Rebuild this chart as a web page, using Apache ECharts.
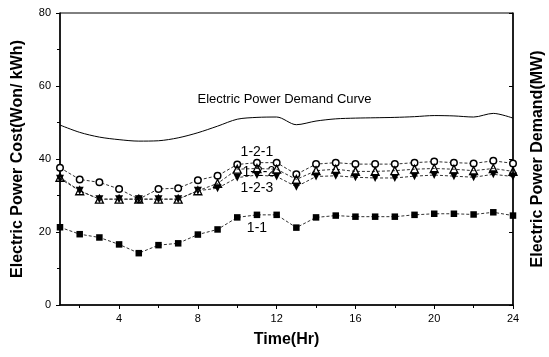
<!DOCTYPE html>
<html>
<head>
<meta charset="utf-8">
<script src="https://cdn.jsdelivr.net/npm/echarts@6/dist/echarts.min.js"></script>
<style>
html,body{margin:0;padding:0;background:#fff;}
#c{width:549px;height:357px;}
</style>
</head>
<body>
<div id="c"></div>
<script>
const hours = [1,2,3,4,5,6,7,8,9,10,11,12,13,14,15,16,17,18,19,20,21,22,23,24];
const demand = [49.3,47.3,46.0,45.3,44.9,45.0,45.8,47.2,49.0,50.9,51.4,51.5,49.4,50.4,51.0,51.2,51.3,51.4,51.6,51.9,51.8,51.5,52.5,51.2];
const s11 = [21.3,19.4,18.5,16.6,14.2,16.4,16.9,19.3,20.7,24.0,24.7,24.7,21.2,24.0,24.5,24.2,24.2,24.2,24.7,25.0,25.0,24.8,25.4,24.5];
const s121 = [37.6,34.4,33.6,31.8,29.0,31.8,32.0,34.2,35.4,38.5,39.0,39.0,35.8,38.6,39.0,38.6,38.6,38.6,39.0,39.3,39.0,38.8,39.5,38.8];
const s122 = [35.0,31.3,29.0,29.0,29.0,29.0,29.0,31.3,33.3,37.2,37.4,37.2,34.4,36.8,37.2,36.6,36.6,36.8,37.2,37.4,37.2,36.8,37.4,36.6];
const s123 = [34.6,31.3,29.0,29.0,29.0,29.0,29.0,31.3,32.0,34.9,35.6,35.2,32.4,35.2,35.4,35.0,34.8,34.8,35.3,35.6,35.3,35.0,35.8,35.2];
const xMajor = [4,8,12,16,20,24];
const xMinor = [2,6,10,14,18,22];
const curveLabels = [
  {text:'Electric Power Demand Curve', x:12.4, y:56.2, size:13},
  {text:'1-2-1', x:11.0, y:41.9, size:14},
  {text:'1-2-2', x:11.1, y:36.4, size:14},
  {text:'1-2-3', x:11.0, y:32.0, size:14},
  {text:'1-1', x:11.0, y:21.1, size:14}
];

const pair = arr => hours.map((h,i)=>[h,arr[i]]);
const FONT = '"Liberation Sans", Arial, sans-serif';
const chart = echarts.init(document.getElementById('c'), null, {renderer:'canvas'});
const dashLine = {color:'#333', width:1, type:[3,2]};
const option = {
  backgroundColor:'#fff',
  animation:false,
  textStyle:{fontFamily:FONT},
  grid:{left:60, right:36, top:13, bottom:52, outerBoundsMode:'none', containLabel:false,
        show:true, borderColor:'#000', borderWidth:1, backgroundColor:'transparent'},
  xAxis:[{
    type:'value', min:1, max:24,
    name:'Time(Hr)', nameLocation:'middle', nameGap:27,
    nameTextStyle:{fontSize:16, fontWeight:'bold', color:'#000', fontFamily:FONT},
    axisLine:{show:true, lineStyle:{color:'#000', width:1.5}},
    axisTick:{show:true, length:4, customValues:xMajor, lineStyle:{color:'#000'}},
    axisLabel:{customValues:xMajor, fontSize:11, color:'#000', margin:8, fontFamily:FONT},
    splitLine:{show:false}
  },{
    type:'value', min:1, max:24, position:'bottom',
    axisLine:{show:false},
    axisTick:{show:true, length:3, customValues:xMinor, lineStyle:{color:'#000'}},
    axisLabel:{show:false},
    splitLine:{show:false}
  }],
  yAxis:[{
    type:'value', min:0, max:80, interval:20, position:'left',
    name:'Electric Power Cost(Won/ kWh)', nameLocation:'middle', nameGap:34, nameRotate:90,
    nameTextStyle:{fontSize:16, fontWeight:'bold', color:'#000', fontFamily:FONT},
    axisLine:{show:true, lineStyle:{color:'#000', width:1.5}},
    axisTick:{show:true, length:4, lineStyle:{color:'#000'}},
    minorTick:{show:true, splitNumber:2, length:3, lineStyle:{color:'#000'}},
    axisLabel:{fontSize:11, color:'#000', margin:9, fontFamily:FONT},
    splitLine:{show:false}
  },{
    type:'value', min:0, max:80, interval:20, position:'right',
    name:'Electric Power Demand(MW)', nameLocation:'middle', nameGap:17, nameRotate:90,
    nameTextStyle:{fontSize:16, fontWeight:'bold', color:'#000', fontFamily:FONT},
    axisLine:{show:true, lineStyle:{color:'#000', width:1.5}},
    axisTick:{show:true, inside:true, length:4, lineStyle:{color:'#000'}},
    axisLabel:{show:false},
    splitLine:{show:false}
  }],
  series:[
    {name:'Demand', type:'line', yAxisIndex:1, data:pair(demand), showSymbol:false, symbol:'none', smooth:0.3,
     lineStyle:{color:'#000', width:1}},
    {name:'1-1', type:'line', data:pair(s11), symbol:'rect', symbolSize:6.5,
     itemStyle:{color:'#000'}, lineStyle:dashLine, z:5},
    {name:'1-2-1', type:'line', data:pair(s121), symbol:'circle', symbolSize:6.5,
     itemStyle:{color:'#fff', borderColor:'#000', borderWidth:1.5}, lineStyle:dashLine, z:5},
    {name:'1-2-3', type:'line', data:pair(s123), symbol:'triangle', symbolRotate:180, symbolSize:8,
     itemStyle:{color:'#000'}, lineStyle:dashLine, z:5},
    {name:'1-2-2', type:'line', data:pair(s122), symbol:'triangle', symbolSize:8,
     itemStyle:{color:'rgba(255,255,255,0)', borderColor:'#000', borderWidth:1.3}, lineStyle:dashLine, z:6}
  ]
};
chart.setOption(option);
const g = curveLabels.map(l => {
  const p = chart.convertToPixel({gridIndex:0}, [l.x, l.y]);
  return {type:'text', x:p[0], y:p[1], z:100,
    style:{text:l.text, fontSize:l.size, fontFamily:FONT, fill:'#000', align:'center', verticalAlign:'middle'}};
});
chart.setOption({graphic:g});
</script>
</body>
</html>
